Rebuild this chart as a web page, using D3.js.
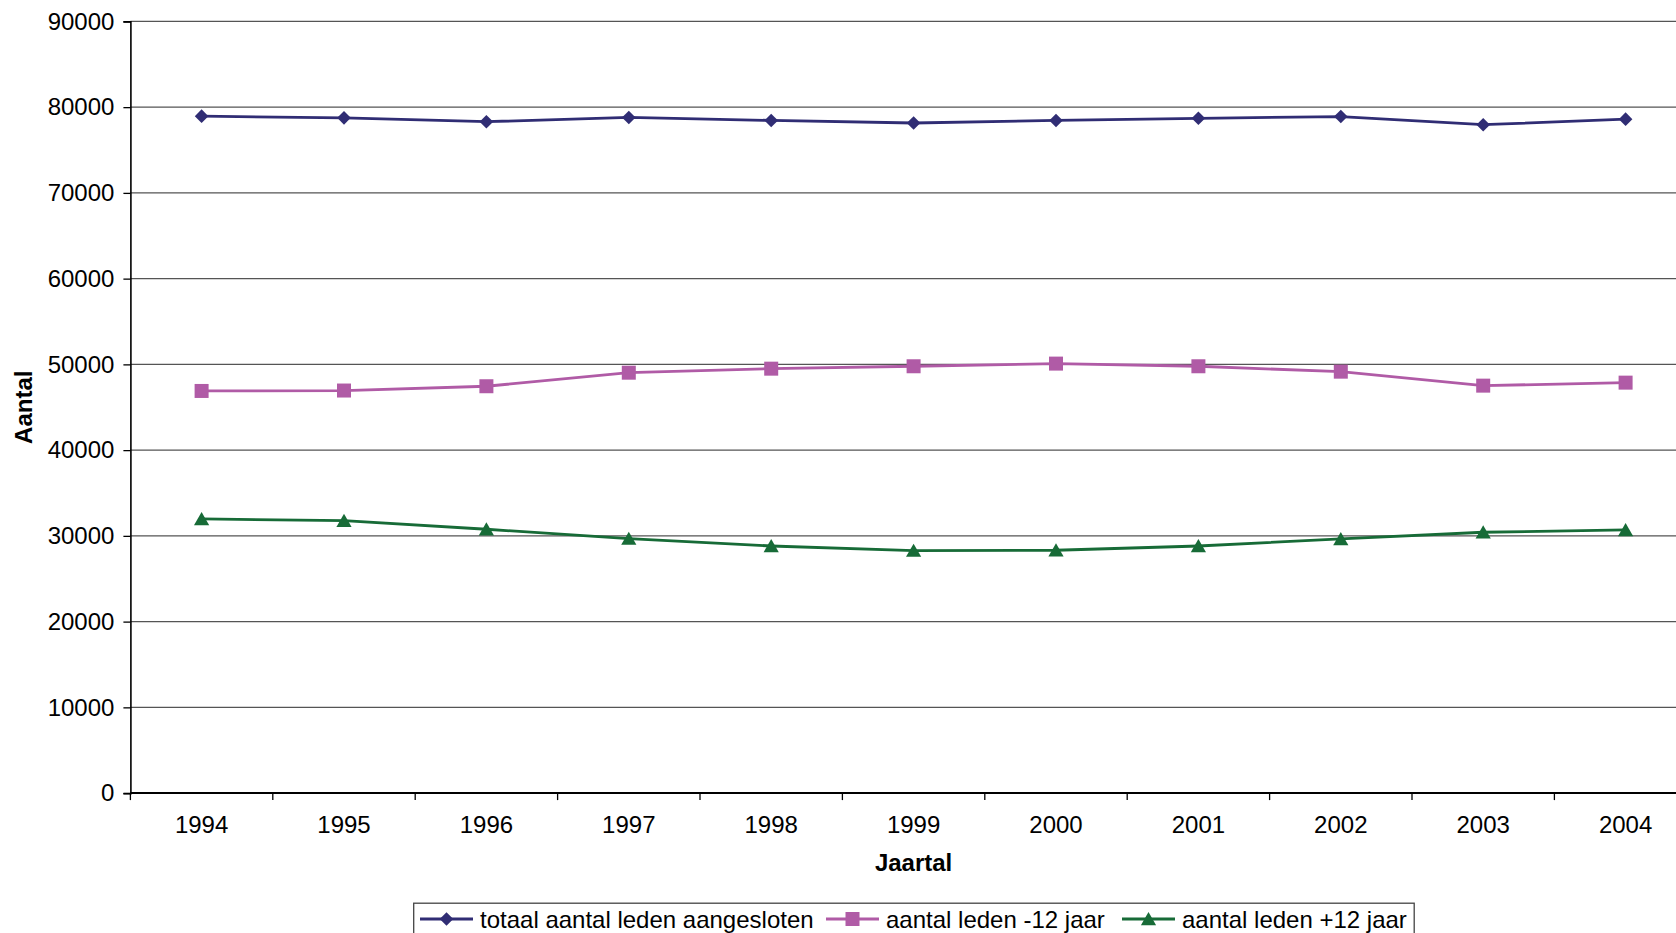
<!DOCTYPE html>
<html>
<head>
<meta charset="utf-8">
<script src="https://cdn.jsdelivr.net/npm/d3@7/dist/d3.min.js"></script>
<style>
  html, body { margin: 0; padding: 0; background: #fff; overflow: hidden; }
  svg { display: block; font-family: "Liberation Sans", Arial, sans-serif; }
</style>
</head>
<body>
<svg id="chart" width="1676" height="933"></svg>
<script>
const years = ["1994","1995","1996","1997","1998","1999","2000","2001","2002","2003","2004"];
const totaal = [78950, 78750, 78300, 78800, 78450, 78150, 78450, 78700, 78900, 77950, 78600];
const onder12 = [46900, 46950, 47450, 49030, 49500, 49780, 50090, 49780, 49150, 47520, 47870];
const boven12 = [31970, 31770, 30770, 29680, 28820, 28280, 28320, 28820, 29640, 30420, 30690];
const yTicks = [0, 10000, 20000, 30000, 40000, 50000, 60000, 70000, 80000, 90000];
const seriesNames = ["totaal aantal leden aangesloten", "aantal leden -12 jaar", "aantal leden +12 jaar"];
const seriesColors = ["#302D74", "#B05BA6", "#176B37"];
const seriesShapes = [d3.symbolSquare, d3.symbolSquare, d3.symbolTriangle];
const xTitle = "Jaartal";
const yTitle = "Aantal";

(function () {
const W = 1676, H = 933;
const pL = 130.4, pR = 1696.8, pT = 21.4, pB = 793.1;
const FS = 24;
const svg = d3.select("#chart");

const x = d3.scaleBand().domain(years).range([pL, pR]).padding(0);
const y = d3.scaleLinear().domain([0, 90000]).range([pB, pT]);
const cx = d => x(d) + x.bandwidth() / 2;

// gridlines
svg.append("g").selectAll("line").data(yTicks.filter(t => t > 0)).join("line")
  .attr("x1", pL).attr("x2", W)
  .attr("y1", d => y(d)).attr("y2", d => y(d))
  .attr("stroke", "#555").attr("stroke-width", 1.3);

// y axis
const yAxis = svg.append("g").attr("transform", `translate(${pL},0)`)
  .call(d3.axisLeft(y).tickValues(yTicks).tickSize(7).tickPadding(9).tickFormat(d3.format("d")));
yAxis.select(".domain").attr("stroke", "#000").attr("stroke-width", 1.6);
yAxis.selectAll(".tick line").attr("stroke", "#000").attr("stroke-width", 1.3);
yAxis.selectAll(".tick text").attr("font-size", FS).attr("fill", "#000")
  .attr("font-family", "Liberation Sans, Arial, sans-serif");

// x axis
const xAxis = svg.append("g").attr("transform", `translate(0,${pB})`)
  .call(d3.axisBottom(x).tickSize(0).tickPadding(23));
xAxis.select(".domain").remove();
xAxis.selectAll(".tick text").attr("font-size", FS).attr("fill", "#000")
  .attr("font-family", "Liberation Sans, Arial, sans-serif");
svg.append("line").attr("x1", pL).attr("x2", W).attr("y1", pB).attr("y2", pB)
  .attr("stroke", "#000").attr("stroke-width", 2);
svg.append("g").selectAll("line").data(years).join("line")
  .attr("x1", d => x(d)).attr("x2", d => x(d))
  .attr("y1", pB).attr("y2", pB + 7)
  .attr("stroke", "#000").attr("stroke-width", 1.3);

// titles
svg.append("text").attr("x", (pL + pR) / 2).attr("y", 871)
  .attr("text-anchor", "middle").attr("font-size", FS).attr("font-weight", "bold").text(xTitle);
svg.append("text").attr("transform", `translate(32,${(pT + pB) / 2}) rotate(-90)`)
  .attr("text-anchor", "middle").attr("font-size", FS).attr("font-weight", "bold").text(yTitle);

// series
const allSeries = [totaal, onder12, boven12];
const line = d3.line().x((d, i) => cx(years[i])).y(d => y(d));
const symSizes = [92, 196, 100];
const symXf = [" rotate(45)", "", " translate(0,1.8)"];
allSeries.forEach((vals, si) => {
  svg.append("path").datum(vals).attr("d", line)
    .attr("fill", "none").attr("stroke", seriesColors[si]).attr("stroke-width", 2.8);
  svg.append("g").selectAll("path").data(vals).join("path")
    .attr("transform", (d, i) => `translate(${cx(years[i])},${y(d)})` + symXf[si])
    .attr("d", d3.symbol().type(seriesShapes[si]).size(symSizes[si]))
    .attr("fill", seriesColors[si]);
});

// legend
const lg = svg.append("g");
lg.append("rect").attr("x", 413.7).attr("y", 903.2).attr("width", 1000.5).attr("height", 60)
  .attr("fill", "#fff").attr("stroke", "#444").attr("stroke-width", 1.3);
const legX = [420, 826, 1122];
seriesNames.forEach((name, si) => {
  const g = lg.append("g");
  g.append("line").attr("x1", legX[si]).attr("x2", legX[si] + 53).attr("y1", 919).attr("y2", 919)
    .attr("stroke", seriesColors[si]).attr("stroke-width", 2.8);
  g.append("path").attr("transform", `translate(${legX[si] + 26.5},919)` + symXf[si])
    .attr("d", d3.symbol().type(seriesShapes[si]).size(symSizes[si]))
    .attr("fill", seriesColors[si]);
  g.append("text").attr("x", legX[si] + 60).attr("y", 927.5).attr("font-size", FS).attr("fill", "#000").text(name);
});
})();
</script>
</body>
</html>
